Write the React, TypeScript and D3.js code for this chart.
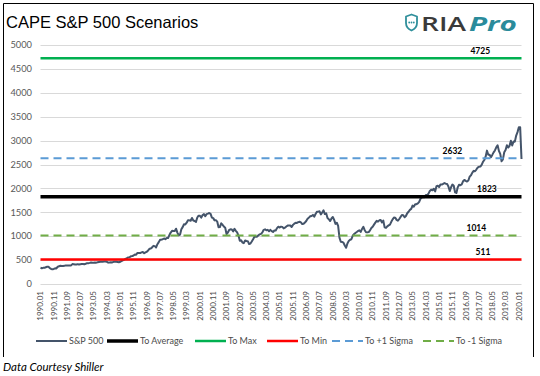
import React from "react";
import * as d3 from "d3";

// ---------- DATA ----------
// S&P 500 monthly average (Shiller), Jan 1990 – Mar 2020
const sp500: number[] = [
  // 1990
  340, 330, 338, 338, 350, 360, 360, 331, 315, 307, 315, 329,
  // 1991
  325, 362, 372, 380, 378, 378, 380, 389, 387, 387, 386, 389,
  // 1992
  416, 413, 407, 407, 415, 408, 415, 418, 418, 413, 423, 436,
  // 1993
  435, 442, 450, 443, 445, 448, 447, 454, 459, 464, 463, 466,
  // 1994
  473, 472, 464, 447, 451, 455, 451, 464, 467, 464, 461, 455,
  // 1995
  465, 482, 493, 508, 524, 539, 557, 559, 579, 583, 596, 615,
  // 1996
  614, 650, 647, 647, 661, 669, 644, 663, 675, 701, 736, 743,
  // 1997
  766, 798, 792, 764, 833, 876, 925, 928, 937, 951, 939, 962,
  // 1998
  963, 1024, 1077, 1112, 1108, 1108, 1157, 1075, 1021, 1032, 1144, 1190,
  // 1999
  1249, 1247, 1282, 1335, 1332, 1323, 1381, 1327, 1318, 1300, 1391, 1429,
  // 2000
  1426, 1389, 1442, 1461, 1418, 1462, 1473, 1485, 1468, 1390, 1378, 1331,
  // 2001
  1336, 1306, 1186, 1190, 1270, 1239, 1204, 1179, 1045, 1077, 1130, 1145,
  // 2002
  1140, 1101, 1154, 1112, 1079, 1014, 904, 913, 868, 855, 910, 899,
  // 2003
  896, 838, 847, 890, 936, 988, 993, 990, 1019, 1039, 1050, 1081,
  // 2004
  1133, 1143, 1124, 1133, 1103, 1133, 1106, 1089, 1118, 1118, 1169, 1199,
  // 2005
  1181, 1200, 1195, 1164, 1178, 1202, 1222, 1224, 1226, 1192, 1237, 1262,
  // 2006
  1279, 1277, 1294, 1302, 1290, 1253, 1260, 1287, 1318, 1363, 1389, 1416,
  // 2007
  1424, 1445, 1407, 1464, 1511, 1514, 1521, 1455, 1497, 1540, 1463, 1479,
  // 2008
  1379, 1355, 1317, 1370, 1403, 1341, 1257, 1281, 1217, 969, 883, 878,
  // 2009
  866, 805, 757, 848, 902, 926, 936, 1010, 1045, 1068, 1088, 1110,
  // 2010
  1124, 1089, 1152, 1197, 1125, 1083, 1080, 1087, 1122, 1172, 1199, 1242,
  // 2011
  1283, 1321, 1304, 1332, 1338, 1287, 1325, 1185, 1174, 1207, 1226, 1243,
  // 2012
  1301, 1352, 1389, 1386, 1341, 1323, 1360, 1403, 1443, 1438, 1395, 1422,
  // 2013
  1480, 1512, 1551, 1571, 1640, 1619, 1669, 1670, 1687, 1720, 1784, 1808,
  // 2014
  1822, 1817, 1864, 1864, 1890, 1947, 1973, 1962, 1993, 1937, 2045, 2054,
  // 2015
  2028, 2082, 2080, 2095, 2112, 2099, 2094, 2040, 1944, 2025, 2081, 2054,
  // 2016
  1919, 1904, 2022, 2076, 2066, 2084, 2149, 2177, 2158, 2143, 2165, 2247,
  // 2017
  2275, 2330, 2367, 2359, 2395, 2434, 2454, 2456, 2493, 2557, 2594, 2664,
  // 2018
  2790, 2705, 2703, 2654, 2701, 2754, 2794, 2858, 2902, 2785, 2723, 2567,
  // 2019
  2607, 2755, 2804, 2904, 2855, 2890, 2996, 2898, 2982, 2978, 3105, 3177,
  // 2020
  3278, 3277, 2615,
];

const startYear = 1990;
const categories: string[] = sp500.map(
  (_, i) => `${startYear + Math.floor(i / 12)}.${String((i % 12) + 1).padStart(2, "0")}`
);

// Scenario levels
const scenarioNames = ["To Average", "To Max", "To Min", "To +1 Sigma", "To -1 Sigma"];
const scenarioValues = [1823, 4725, 511, 2632, 1014];
// category where each level's data label sits
const scenarioLabelAt = ["2018.01", "2017.08", "2017.10", "2015.11", "2017.05"];

const yTicks = [0, 500, 1000, 1500, 2000, 2500, 3000, 3500, 4000, 4500, 5000];
const xTickEvery = 10;

// ---------- STYLE ----------
const seriesStyle: Record<string, { color: string; width: number; dash?: string }> = {
  "S&P 500": { color: "#44546A", width: 2 },
  "To Average": { color: "#000000", width: 3.5 },
  "To Max": { color: "#00B050", width: 2.5 },
  "To Min": { color: "#FF0000", width: 2.5 },
  "To +1 Sigma": { color: "#5B9BD5", width: 2, dash: "8,5" },
  "To -1 Sigma": { color: "#70AD47", width: 2, dash: "8,5" },
};

const W = 540;
const H = 376;
const plot = { left: 40.5, right: 521.5, top: 45, bottom: 284 };
const axisFont = "Lato, 'Open Sans', sans-serif";

export default function App() {
  const x = d3.scalePoint<string>().domain(categories).range([plot.left, plot.right]);
  const y = d3.scaleLinear().domain([0, 5000]).range([plot.bottom, plot.top]);

  const line = d3
    .line<number>()
    .x((_, i) => x(categories[i]) as number)
    .y((d) => y(d));

  const xTicks = categories.filter((_, i) => i % xTickEvery === 0);

  const legendItems = ["S&P 500", ...scenarioNames];
  const legendX = [36, 107, 195, 267, 332, 423];
  const legendY = 341;

  return (
    <svg
      width={W}
      height={H}
      style={{ position: "absolute", left: 0, top: 0, background: "#fff" }}
      fontFamily={axisFont}
    >
      <rect x={0} y={0} width={W} height={H} fill="#fff" />
      {/* frame */}
      <path d="M3.5,357 L3.5,3.5 L533.5,3.5 L533.5,357" fill="none" stroke="#000" strokeWidth={1} />

      {/* title */}
      <text x={6} y={28} fontFamily="'Liberation Sans', Arial, sans-serif" fontSize={16.5} fill="#000">
        CAPE S&amp;P 500 Scenarios
      </text>

      {/* logo */}
      <g>
        <path
          d="M406,16.5 L411.5,14.5 L417,16.5 L417,23 Q417,28 411.5,30.5 Q406,28 406,23 Z"
          fill="#fff"
          stroke="#2F8F9B"
          strokeWidth={1.8}
          strokeLinejoin="round"
        />
        <circle cx={409.2} cy={22.5} r={0.9} fill="#2F8F9B" />
        <circle cx={411.5} cy={22.5} r={0.9} fill="#2F8F9B" />
        <circle cx={413.8} cy={22.5} r={0.9} fill="#2F8F9B" />
        <text
          x={421}
          y={31}
          fontFamily="'Open Sans', sans-serif"
          fontWeight={600}
          fontSize={20}
          fill="#3A3A3A"
          textLength={45}
          lengthAdjust="spacingAndGlyphs"
        >
          RIA
        </text>
        <text
          x={469}
          y={31}
          fontFamily="'Open Sans', sans-serif"
          fontWeight={700}
          fontStyle="italic"
          fontSize={20}
          fill="#2A8B9B"
          textLength={48}
          lengthAdjust="spacingAndGlyphs"
        >
          Pro
        </text>
      </g>

      {/* gridlines */}
      {yTicks.map((t) => (
        <line
          key={t}
          x1={plot.left}
          x2={plot.right}
          y1={Math.round(y(t)) + 0.5}
          y2={Math.round(y(t)) + 0.5}
          stroke="#D9D9D9"
          strokeWidth={1}
        />
      ))}

      {/* y labels */}
      {yTicks.map((t) => (
        <text key={t} x={32} y={y(t)} dy="0.35em" textAnchor="end" fontSize={9.3} fill="#595959">
          {t}
        </text>
      ))}

      {/* x labels */}
      {xTicks.map((c) => (
        <text
          key={c}
          transform={`translate(${x(c)},291) rotate(-90)`}
          dy="0.35em"
          textAnchor="end"
          fontSize={8}
          fill="#4A4A4A"
        >
          {c}
        </text>
      ))}

      {/* S&P 500 line */}
      <path
        d={line(sp500) || ""}
        fill="none"
        stroke={seriesStyle["S&P 500"].color}
        strokeWidth={seriesStyle["S&P 500"].width}
        strokeLinejoin="round"
      />

      {/* scenario lines */}
      {scenarioNames.map((name, k) => {
        const vals = categories.map(() => scenarioValues[k]);
        const s = seriesStyle[name];
        return (
          <path
            key={name}
            d={line(vals) || ""}
            fill="none"
            stroke={s.color}
            strokeWidth={s.width}
            strokeDasharray={s.dash}
          />
        );
      })}

      {/* data labels */}
      {scenarioNames.map((name, k) => (
        <text
          key={name}
          x={x(scenarioLabelAt[k]) as number}
          y={y(scenarioValues[k]) - 4.5}
          textAnchor="middle"
          fontSize={8.5}
          fontWeight={700}
          fill="#000"
        >
          {scenarioValues[k]}
        </text>
      ))}

      {/* legend */}
      {legendItems.map((name, i) => {
        const s = seriesStyle[name];
        const lx = legendX[i];
        return (
          <g key={name}>
            <line
              x1={lx}
              x2={lx + 31}
              y1={legendY}
              y2={legendY}
              stroke={s.color}
              strokeWidth={s.width}
              strokeDasharray={s.dash}
            />
            <text x={lx + 33} y={legendY} dy="0.35em" fontSize={9} fill="#4A4A4A">
              {name}
            </text>
          </g>
        );
      })}

      {/* footer */}
      <text x={3} y={371} fontSize={11.5} fontStyle="italic" fill="#000">
        Data Courtesy Shiller
      </text>
    </svg>
  );
}
